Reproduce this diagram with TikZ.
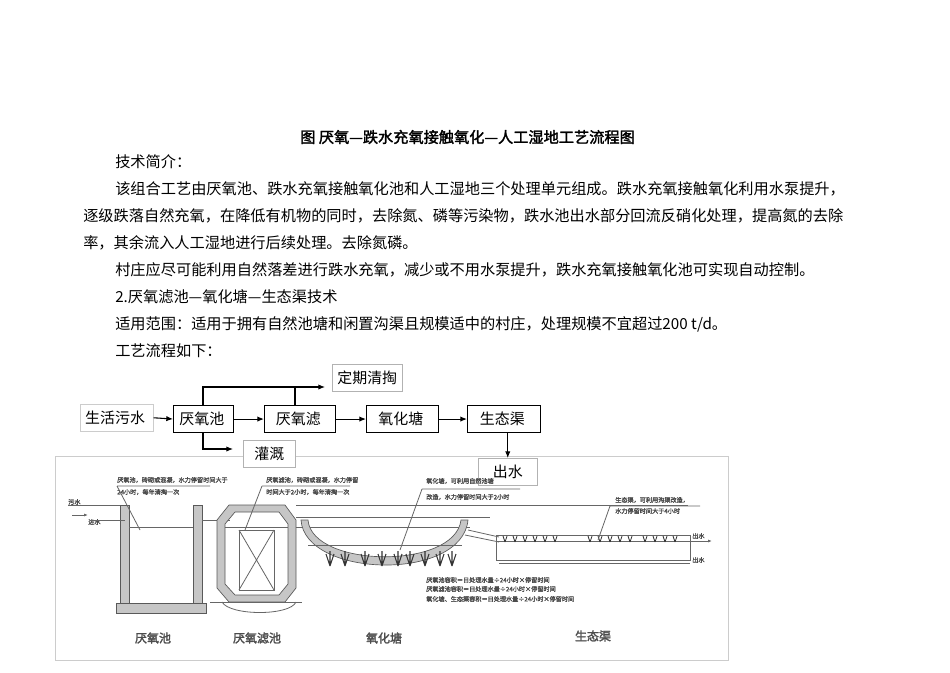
\documentclass[tikz,border=0pt]{standalone}
\usepackage{fontspec}
\setmainfont{Noto Sans CJK SC}[AutoFakeBold=2]
\usetikzlibrary{arrows.meta}
\begin{document}
\begin{tikzpicture}[x=0.75pt,y=-0.75pt,
  txt/.style={anchor=west,inner sep=0,font=\fontsize{11.4}{12}\selectfont},
  fbox/.style={draw,thick,minimum height=20.25pt,anchor=north west,inner sep=0,font=\fontsize{11.2}{12}\selectfont},
  gbox/.style={draw=gray!60,minimum height=20.25pt,anchor=north west,inner sep=0,fill=white,font=\fontsize{11.2}{12}\selectfont},
  flow/.style={-{Latex[length=5pt,width=4pt]},thick},
  dl/.style={gray!80!black,line width=0.6pt},
  wall/.style={fill=gray!45,draw=gray!70!black,line width=0.5pt},
  tiny/.style={inner sep=0,anchor=west,text=gray!60!black,font=\fontsize{4.6}{5.5}\selectfont\bfseries},
  lab/.style={inner sep=0,text=gray!60!black,font=\fontsize{9}{10}\selectfont\bfseries}]
\useasboundingbox (0,0) rectangle (950,672);
% text
\node[txt,font=\fontsize{11.4}{12}\selectfont\bfseries] (title) at (300,137) {图\ 厌氧—跌水充氧接触氧化—人工湿地工艺流程图};
\node[txt] (t1) at (115,162) {技术简介：};
\node[txt] (t2) at (115,189) {该组合工艺由厌氧池、跌水充氧接触氧化池和人工湿地三个处理单元组成。跌水充氧接触氧化利用水泵提升，};
\node[txt] (t3) at (83,216) {逐级跌落自然充氧，在降低有机物的同时，去除氮、磷等污染物，跌水池出水部分回流反硝化处理，提高氮的去除};
\node[txt] (t4) at (83,243) {率，其余流入人工湿地进行后续处理。去除氮磷。};
\node[txt] (t5) at (115,270) {村庄应尽可能利用自然落差进行跌水充氧，减少或不用水泵提升，跌水充氧接触氧化池可实现自动控制。};
\node[txt] (t6) at (115,297) {2.厌氧滤池—氧化塘—生态渠技术};
\node[txt] (t7) at (115,324) {适用范围：适用于拥有自然池塘和闲置沟渠且规模适中的村庄，处理规模不宜超过200 t/d。};
\node[txt] (t8) at (115,351) {工艺流程如下：};
% drawing frame
\draw[gray!40,fill=white] (55,456) rectangle (728,660);
% flowchart
\node[gbox,minimum width=54.75pt,draw=gray!40] (sw) at (80,404) {生活污水\ \ };
\node[fbox,minimum width=45pt] (ay) at (173,405) {厌氧池\ \ };
\node[fbox,minimum width=53.25pt] (al) at (264,405) {\ \ 厌氧滤\ \ \ \ };
\node[fbox,minimum width=54pt] (yh) at (366,405) {\ \ 氧化塘\ \ \ \ };
\node[fbox,minimum width=54.75pt] (st) at (467,405) {\ \ 生态渠\ \ \ \ };
\node[gbox,minimum width=52.5pt] (dq) at (332,364) {定期清掏};
\node[gbox,minimum width=39pt] (gg) at (243,440) {灌溉};
\node[gbox,minimum width=44.25pt] (cs) at (478,458) {出水};
\draw[flow] (sw.east) -- (ay.west);
\draw[flow] (ay.east) -- (al.west);
\draw[flow] (al.east) -- (yh.west);
\draw[flow] (yh.east) -- (st.west);
\coordinate (up1) at (203,387);
\coordinate (dn1) at (203,449);
\draw[flow] (ay.north -| up1) -- (up1) -- (325,387);
\draw[thick] (295,405) -- (295,387);
\draw[flow] (ay.south -| dn1) -- (dn1) -- (233,449);
\draw[flow] (st.south -| cs.north) -- (cs.north);
% ---- sketch ----
\draw[dl] (68,505) -- (130,505);
\draw[dl] (296,505) -- (688,505);
\node[tiny] (ws) at (68,502) {污水};
\draw[dl,-{Latex[length=3pt]}] (72,515) -- (88,515);
\node[tiny] (jin) at (88,522) {进水};
% anaerobic tank
\draw[wall] (120,505) rectangle (129,606);
\draw[wall] (193,505) rectangle (202,606);
\draw[wall] (116,603) rectangle (206,613);
\draw[dl] (129,527) -- (193,527);
\draw[dl] (90,520) -- (125,520);
\draw[dl] (202,520) -- (230,520);
% anaerobic filter
\draw[wall,even odd rule] (229,505) -- (285,505) -- (296,520) -- (296,588) -- (285,602) -- (229,602) -- (217,588) -- (217,520) -- cycle
  (235,512) -- (279,512) -- (288,524) -- (288,584) -- (279,595) -- (235,595) -- (225,584) -- (225,524) -- cycle;
\draw[dl] (239,530) rectangle (274,590);
\draw[dl] (239,530) -- (274,590) (274,530) -- (239,590);
\draw[dl] (210,602) -- (302,602);
\draw[dl] (222,602) .. controls (230,616) and (290,616) .. (296,602);
\draw[dl] (225,527) -- (288,527);
% oxidation pond
\draw[dl] (296,517) -- (490,517);
\draw[dl] (296,527) -- (470,527);
\draw[wall] (301,520) .. controls (305,578) and (462,582) .. (468,520) -- (461,520) .. controls (455,570) and (312,568) .. (308,520) -- cycle;
\draw[dl] (308,545) -- (462,545);
\foreach \px in {330,345,365,382,398,410,425,440,452} {
  \draw[black!80,line width=0.8pt] (\px,566) -- ++(-4,-12) (\px,566) -- ++(0,-15) (\px,566) -- ++(4,-12);
}
% slope
\draw[dl] (465,535) -- (499,542);
\draw[dl] (468,530) -- (499,537);
% eco channel
\draw[dl] (496,535) rectangle (690,560);
\draw[dl] (496,541) -- (690,541);
\draw[dl] (499,563) -- (690,563);
\foreach \px in {505,515,525,535,545,555,590,600,610,620,630,645,655,665,675} {
  \draw[black!80,line width=0.6pt] (\px,542) -- ++(-2,-6) (\px,542) -- ++(2,-6);
}
\draw[dl,-{Latex[length=3pt]}] (690,541) -- (712,541);
\node[tiny] (cs2) at (692,536) {出水};
\node[tiny] (cs3) at (692,560) {出水};
% callouts
\node[tiny] (c1) at (117,480) {厌氧池，砖砌或混凝，水力停留时间大于};
\node[tiny] (c1b) at (117,492) {24小时，每年清掏一次};
\draw[dl] (117,486) -- (210,486) (117,486) -- (140,530);
\node[tiny] (c2) at (266,480) {厌氧滤池，砖砌或混凝，水力停留};
\node[tiny] (c2b) at (266,492) {时间大于2小时，每年清掏一次};
\draw[dl] (262,486) -- (350,486) (262,486) -- (245,530);
\node[tiny] (c3) at (426,481) {氧化塘，可利用自然池塘};
\node[tiny] (c3b) at (426,497) {改造，水力停留时间大于2小时};
\draw[dl] (422,489) -- (520,489) (422,489) -- (400,550);
\node[tiny] (c4) at (615,500) {生态渠，可利用沟渠改造，};
\node[tiny] (c4b) at (615,511) {水力停留时间大于4小时};
\draw[dl] (610,506) -- (700,506) (610,506) -- (598,540);
% notes
\node[tiny] (n1) at (426,580) {厌氧池容积＝日处理水量÷24小时×停留时间};
\node[tiny] (n2) at (426,589) {厌氧滤池容积＝日处理水量÷24小时×停留时间};
\node[tiny] (n3) at (426,599) {氧化塘、生态渠容积＝日处理水量÷24小时×停留时间};
% labels
\node[lab] (l1) at (153,638) {厌氧池};
\node[lab] (l2) at (257,638) {厌氧滤池};
\node[lab] (l3) at (384,638) {氧化塘};
\node[lab] (l4) at (593,636) {生态渠};
\end{tikzpicture}
\end{document}
